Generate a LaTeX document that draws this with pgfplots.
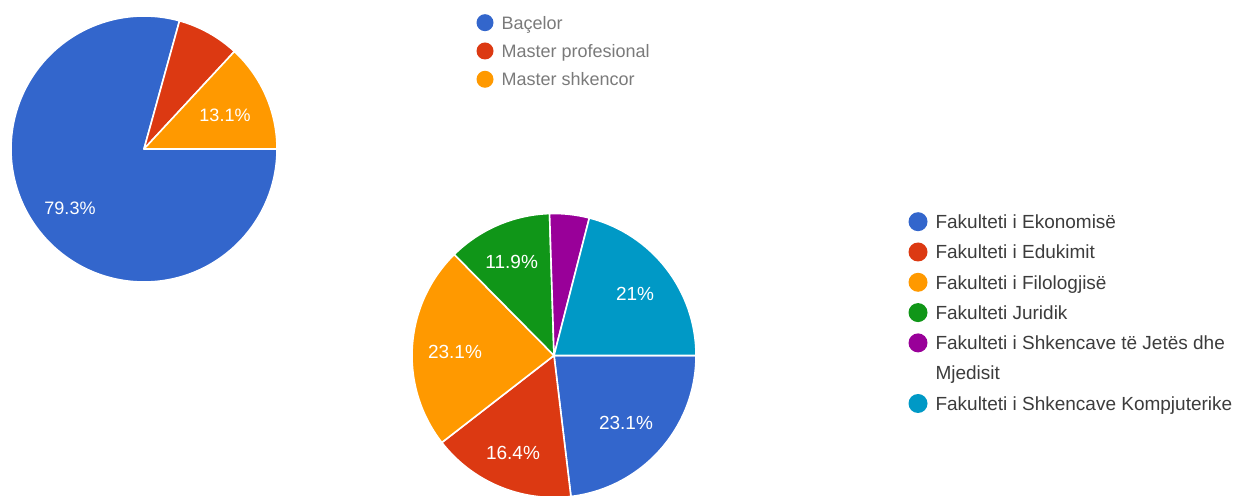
\documentclass[border=0pt]{standalone}
\usepackage{pgfplots}
\pgfplotsset{compat=1.18}
\usepackage{fontspec}
\setmainfont{Liberation Sans}
\definecolor{gblue}{HTML}{3366CC}
\definecolor{gred}{HTML}{DC3912}
\definecolor{gorange}{HTML}{FF9900}
\definecolor{ggreen}{HTML}{109618}
\definecolor{gpurple}{HTML}{990099}
\definecolor{gcyan}{HTML}{0099C6}
\definecolor{lgone}{HTML}{7A7A7A}
\definecolor{lgtwo}{HTML}{3C3C3C}
% slice: cx, cy, radius, start (percent), value (percent), colour
\newcommand{\pieslice}[6]{%
  \fill[#6, draw=white, line width=1.6bp, line join=round]
    (axis cs:#1,#2) -- ++({-3.6*(#4)}:#3bp)
    arc[start angle={-3.6*(#4)}, end angle={-3.6*((#4)+(#5))}, radius=#3bp] -- cycle;}
\begin{document}
\begin{tikzpicture}
% ---------- first pie ----------
\begin{axis}[
  width=1241bp, height=496bp, scale only axis,
  xmin=0, xmax=1241, ymin=0, ymax=496,
  hide axis, clip=true,
  legend image code/.code={\fill[#1] (0bp,6.4bp) circle[radius=8.5bp];},
  legend style={at={(axis cs:476.5,482.4)}, anchor=north west,
    draw=none, fill=none, inner sep=0pt, outer sep=0pt,
    row sep=8.1bp, column sep=8bp,
    font=\fontsize{18bp}{24bp}\selectfont,
    nodes={inner sep=0pt, outer sep=0pt, text height=15.5bp, text depth=4.7bp, text=lgone},
    cells={anchor=base west}},
]
\addlegendimage{draw=none, fill=gblue}\addlegendentry{Baçelor}
\addlegendimage{draw=none, fill=gred}\addlegendentry{Master profesional}
\addlegendimage{draw=none, fill=gorange}\addlegendentry{Master shkencor}
\pieslice{144}{347}{133}{0}{79.3}{gblue}
\pieslice{144}{347}{133}{79.3}{7.6}{gred}
\pieslice{144}{347}{133}{86.9}{13.1}{gorange}
\node[anchor=base, text=white, font=\fontsize{18bp}{22bp}\selectfont, inner sep=0pt] at (axis cs:225,374.7) {13.1\%};
\node[anchor=base, text=white, font=\fontsize{18bp}{22bp}\selectfont, inner sep=0pt] at (axis cs:70,281.7) {79.3\%};
\end{axis}
% ---------- second pie ----------
\begin{axis}[
  width=1241bp, height=496bp, scale only axis,
  xmin=0, xmax=1241, ymin=0, ymax=496,
  hide axis, clip=true,
  legend image code/.code={\fill[#1] (0bp,6.8bp) circle[radius=9.5bp];},
  legend style={at={(axis cs:908.5,284)}, anchor=north west,
    draw=none, fill=none, inner sep=0pt, outer sep=0pt,
    row sep=8.8bp, column sep=8bp,
    font=\fontsize{19bp}{30bp}\selectfont,
    nodes={inner sep=0pt, outer sep=0pt, text height=16.5bp, text depth=5bp, text=lgtwo},
    cells={anchor=base west}},
]
\addlegendimage{draw=none, fill=gblue}\addlegendentry{Fakulteti i Ekonomisë}
\addlegendimage{draw=none, fill=gred}\addlegendentry{Fakulteti i Edukimit}
\addlegendimage{draw=none, fill=gorange}\addlegendentry{Fakulteti i Filologjisë}
\addlegendimage{draw=none, fill=ggreen}\addlegendentry{Fakulteti Juridik}
\addlegendimage{draw=none, fill=gpurple}\addlegendentry[text depth=35.3bp]{\vtop{\hbox{Fakulteti i Shkencave të Jetës dhe}\hbox{Mjedisit}}}
\addlegendimage{draw=none, fill=gcyan}\addlegendentry{Fakulteti i Shkencave Kompjuterike}
\pieslice{554}{140.5}{142}{0}{23.1}{gblue}
\pieslice{554}{140.5}{142}{23.1}{16.4}{gred}
\pieslice{554}{140.5}{142}{39.5}{23.1}{gorange}
\pieslice{554}{140.5}{142}{62.6}{11.9}{ggreen}
\pieslice{554}{140.5}{142}{74.5}{4.5}{gpurple}
\pieslice{554}{140.5}{142}{79.0}{21.0}{gcyan}
\node[anchor=base, text=white, font=\fontsize{19bp}{22bp}\selectfont, inner sep=0pt] at (axis cs:511.7,227.5) {11.9\%};
\node[anchor=base, text=white, font=\fontsize{19bp}{22bp}\selectfont, inner sep=0pt] at (axis cs:635,195.2) {21\%};
\node[anchor=base, text=white, font=\fontsize{19bp}{22bp}\selectfont, inner sep=0pt] at (axis cs:455,137.5) {23.1\%};
\node[anchor=base, text=white, font=\fontsize{19bp}{22bp}\selectfont, inner sep=0pt] at (axis cs:626,66.5) {23.1\%};
\node[anchor=base, text=white, font=\fontsize{19bp}{22bp}\selectfont, inner sep=0pt] at (axis cs:513,36.2) {16.4\%};
\end{axis}
\pgfresetboundingbox
\useasboundingbox (0,0) rectangle (1241bp,496bp);
\end{tikzpicture}
\end{document}
